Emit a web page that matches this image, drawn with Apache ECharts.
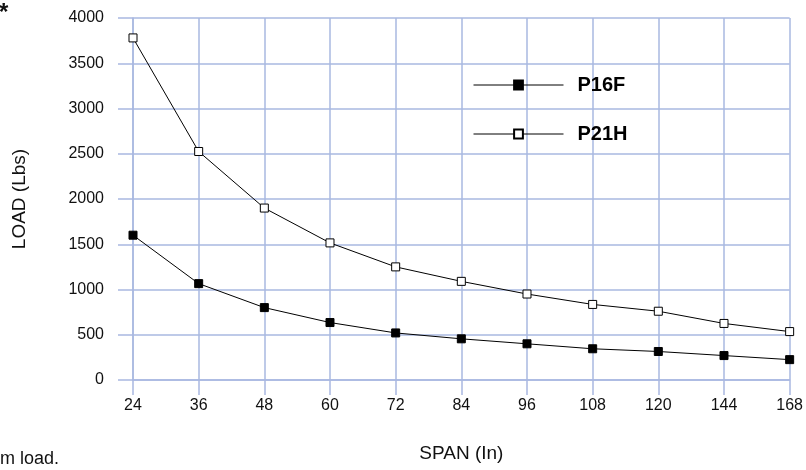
<!DOCTYPE html>
<html>
<head>
<meta charset="utf-8">
<script src="https://cdn.jsdelivr.net/npm/echarts@6/dist/echarts.min.js"></script>
<style>
html,body{margin:0;padding:0;background:#fff;}
#c{width:806px;height:470px;}
</style>
</head>
<body>
<div id="c"></div>
<script>
const spans = ['24','36','48','60','72','84','96','108','120','144','168'];
const p16f = [1600, 1065, 800, 635, 520, 455, 400, 345, 315, 270, 225];
const p21h = [3780, 2525, 1900, 1515, 1250, 1090, 950, 835, 760, 625, 535];
const yTicks = [0, 500, 1000, 1500, 2000, 2500, 3000, 3500, 4000];

const gridColor = '#a9b8e1';
const font = 'Liberation Sans, Arial, Helvetica, sans-serif';

const chart = echarts.init(document.getElementById('c'), null, {renderer: 'canvas'});
chart.setOption({
  animation: false,
  backgroundColor: '#ffffff',
  grid: {left: 133, right: 16, top: 18, bottom: 90, containLabel: false},
  legend: {
    orient: 'vertical',
    left: 468,
    top: 70,
    padding: 5,
    itemWidth: 90,
    itemHeight: 11,
    itemGap: 29,
    lineStyle: {width: 1},
    textStyle: {fontFamily: font, fontSize: 20, fontWeight: 'bold', color: '#000', padding: [0, 0, 0, 9]},
    data: ['P16F', 'P21H']
  },
  xAxis: {
    type: 'category',
    data: spans,
    boundaryGap: false,
    name: 'SPAN (In)',
    nameLocation: 'middle',
    nameGap: 64,
    nameTextStyle: {fontFamily: font, fontSize: 19, color: '#111'},
    axisLine: {show: true, lineStyle: {color: gridColor, width: 1.5}},
    axisTick: {show: true, length: 15, lineStyle: {color: gridColor, width: 1.5}},
    axisLabel: {fontFamily: font, fontSize: 16, color: '#111', margin: 18, interval: 0},
    splitLine: {show: true, lineStyle: {color: gridColor, width: 1.5}}
  },
  yAxis: {
    type: 'value',
    min: 0,
    max: 4000,
    interval: 500,
    name: 'LOAD (Lbs)',
    nameLocation: 'middle',
    nameGap: 104,
    nameTextStyle: {fontFamily: font, fontSize: 19, color: '#111'},
    axisLine: {show: true, lineStyle: {color: gridColor, width: 1.5}},
    axisTick: {show: true, length: 15, lineStyle: {color: gridColor, width: 1.5}},
    axisLabel: {fontFamily: font, fontSize: 16, color: '#111', margin: 29,
      formatter: v => yTicks.includes(v) ? String(v) : ''},
    splitLine: {show: true, lineStyle: {color: gridColor, width: 1.5}}
  },
  series: [
    {
      name: 'P16F',
      type: 'line',
      data: p16f,
      symbol: 'rect',
      symbolSize: 8,
      showAllSymbol: true,
      lineStyle: {color: '#000', width: 1},
      itemStyle: {color: '#000', borderColor: '#000', borderWidth: 1}
    },
    {
      name: 'P21H',
      type: 'line',
      data: p21h,
      symbol: 'rect',
      symbolSize: 8,
      showAllSymbol: true,
      lineStyle: {color: '#000', width: 1},
      itemStyle: {color: '#fff', borderColor: '#000', borderWidth: 1}
    }
  ],
  graphic: [
    {type: 'text', left: -1, top: 1, style: {text: '*', fontFamily: font, fontSize: 24, fontWeight: 'bold', fill: '#111'}},
    {type: 'text', left: 0, top: 450, style: {text: 'm load.', fontFamily: font, fontSize: 18, fill: '#111'}}
  ]
});
</script>
</body>
</html>
